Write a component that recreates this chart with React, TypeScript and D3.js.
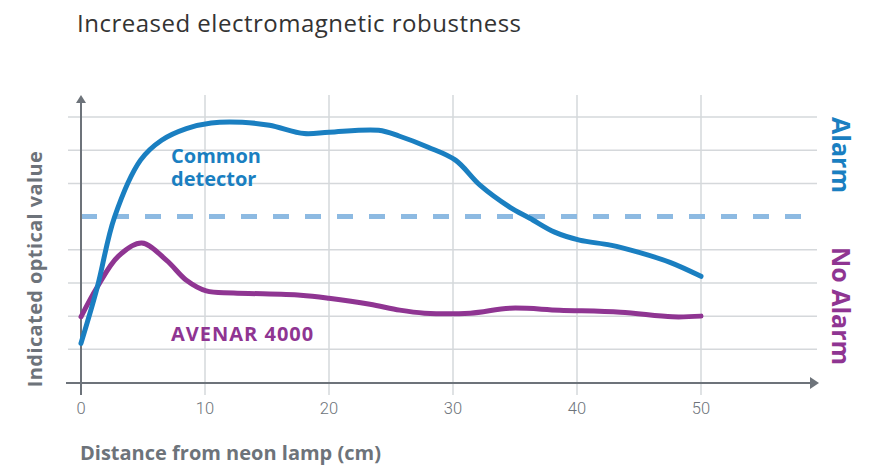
import * as d3 from "d3";
import React, { useEffect, useRef } from "react";

// distance from neon lamp (cm) and indicated optical value (grid units)
const commonX = [0, 1.3, 2.7, 4.8, 6.5, 8.5, 10.5, 13, 15.2, 18, 20, 24, 25.7, 28, 30.2, 32.2, 34.6, 36.2, 38.2, 40.2, 42.7, 45, 47.5, 50];
const commonY = [1.18, 2.85, 4.98, 6.7, 7.3, 7.65, 7.82, 7.84, 7.75, 7.5, 7.54, 7.6, 7.42, 7.09, 6.7, 5.94, 5.28, 4.95, 4.53, 4.29, 4.14, 3.92, 3.62, 3.2];
const avenarX = [0, 1.3, 3, 4.9, 6.9, 8.5, 10.1, 12.3, 17.7, 20, 23.3, 25.7, 27.7, 31.4, 34.6, 38.6, 43.5, 47.7, 50];
const avenarY = [1.98, 2.87, 3.8, 4.2, 3.68, 3.08, 2.76, 2.7, 2.63, 2.54, 2.36, 2.18, 2.09, 2.09, 2.24, 2.18, 2.12, 1.98, 2.0];
const xTicks = [0, 10, 20, 30, 40, 50];
const gridValues = [1, 2, 3, 4, 6, 7, 8];
const alarmThreshold = 5;

const BLUE = "#1a7fc1";
const PURPLE = "#8f3592";
const DASH = "#8dbae2";
const GRAY = "#6d737a";
const GRID = "#d5d8db";
const FONT = "'Open Sans', sans-serif";

export default function App() {
  const ref = useRef<SVGSVGElement>(null);

  useEffect(() => {
    const svg = d3.select(ref.current);
    svg.selectAll("*").remove();

    const x = d3.scaleLinear().domain([0, 50]).range([81, 701]);
    const y = d3.scaleLinear().domain([0, 8]).range([382.5, 117]);

    // title
    svg.append("text")
      .attr("x", 77).attr("y", 32)
      .attr("font-family", FONT).attr("font-size", 24).attr("letter-spacing", 0.5)
      .attr("fill", "#333").text("Increased electromagnetic robustness");

    // horizontal grid
    svg.append("g").selectAll("line").data(gridValues).join("line")
      .attr("x1", 68).attr("x2", 817)
      .attr("y1", d => y(d)).attr("y2", d => y(d))
      .attr("stroke", GRID).attr("stroke-width", 1.5);

    // vertical grid
    svg.append("g").selectAll("line").data(xTicks.slice(1)).join("line")
      .attr("x1", d => x(d)).attr("x2", d => x(d))
      .attr("y1", 95).attr("y2", 395)
      .attr("stroke", GRID).attr("stroke-width", 1.5);

    // alarm threshold
    svg.append("line")
      .attr("x1", x(0)).attr("x2", 817)
      .attr("y1", y(alarmThreshold)).attr("y2", y(alarmThreshold))
      .attr("stroke", DASH).attr("stroke-width", 5)
      .attr("stroke-dasharray", "16 16");

    // axes
    const x0 = x(0), yAxis = 383;
    svg.append("line").attr("x1", x0).attr("x2", x0).attr("y1", 102).attr("y2", 395)
      .attr("stroke", GRAY).attr("stroke-width", 2);
    svg.append("path").attr("d", `M${x0 - 5},${103} L${x0},${95} L${x0 + 5},${103} Z`).attr("fill", GRAY);
    svg.append("line").attr("x1", 66).attr("x2", 811).attr("y1", yAxis).attr("y2", yAxis)
      .attr("stroke", GRAY).attr("stroke-width", 2);
    svg.append("path").attr("d", `M${810},${yAxis - 6} L${819},${yAxis} L${810},${yAxis + 6} Z`).attr("fill", GRAY);

    svg.append("g").selectAll("text").data(xTicks).join("text")
      .attr("x", d => x(d)).attr("y", 414)
      .attr("text-anchor", "middle")
      .attr("font-family", "Roboto, sans-serif").attr("font-weight", 300).attr("font-size", 16.5)
      .attr("fill", GRAY).text(d => d);

    svg.append("text")
      .attr("x", 80).attr("y", 460)
      .attr("font-family", FONT).attr("font-weight", 700).attr("font-size", 20)
      .attr("fill", GRAY).text("Distance from neon lamp (cm)");

    svg.append("text")
      .attr("transform", `translate(42,269) rotate(-90)`)
      .attr("text-anchor", "middle")
      .attr("font-family", FONT).attr("font-weight", 700).attr("font-size", 20).attr("letter-spacing", 0.4)
      .attr("fill", GRAY).text("Indicated optical value");

    // curves
    const line = d3.line<[number, number]>()
      .x(d => x(d[0])).y(d => y(d[1]))
      .curve(d3.curveCatmullRom.alpha(0.5));

    svg.append("path")
      .attr("d", line(avenarX.map((v, i) => [v, avenarY[i]] as [number, number])))
      .attr("fill", "none").attr("stroke", PURPLE).attr("stroke-width", 5)
      .attr("stroke-linecap", "round");
    svg.append("path")
      .attr("d", line(commonX.map((v, i) => [v, commonY[i]] as [number, number])))
      .attr("fill", "none").attr("stroke", BLUE).attr("stroke-width", 5)
      .attr("stroke-linecap", "round");

    // labels
    const common = svg.append("text")
      .attr("font-family", FONT).attr("font-weight", 700).attr("font-size", 20)
      .attr("fill", BLUE);
    common.append("tspan").attr("x", 171).attr("y", 162.5).text("Common");
    common.append("tspan").attr("x", 171).attr("y", 185.5).text("detector");

    svg.append("text")
      .attr("x", 171).attr("y", 341)
      .attr("font-family", FONT).attr("font-weight", 700).attr("font-size", 20).attr("letter-spacing", 1)
      .attr("fill", PURPLE).text("AVENAR 4000");

    svg.append("text")
      .attr("transform", `translate(832,155) rotate(90)`)
      .attr("text-anchor", "middle")
      .attr("font-family", FONT).attr("font-weight", 700).attr("font-size", 25)
      .attr("fill", BLUE).text("Alarm");
    svg.append("text")
      .attr("transform", `translate(832,306) rotate(90)`)
      .attr("text-anchor", "middle")
      .attr("font-family", FONT).attr("font-weight", 700).attr("font-size", 25)
      .attr("fill", PURPLE).text("No Alarm");
  }, []);

  return (
    <svg ref={ref} width={884} height={467}
      style={{ position: "absolute", left: 0, top: 0, background: "#fff" }} />
  );
}
